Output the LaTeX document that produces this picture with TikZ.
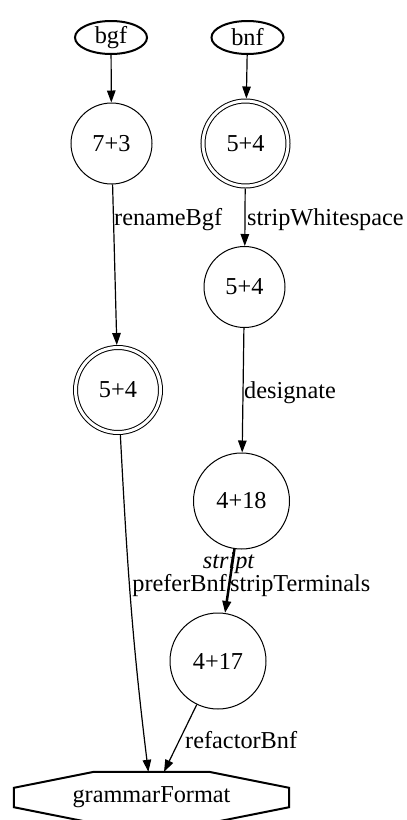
\documentclass[tikz,border=0pt]{standalone}
\usepackage{fontspec}
\setmainfont{Liberation Serif}
\usetikzlibrary{shapes.geometric, arrows.meta}

\tikzset{
  every node/.style={font=\fontsize{24.3}{29}\selectfont, inner sep=0pt},
  state/.style={circle, draw, line width=1pt, minimum size=81pt},
  widestate/.style={state, minimum size=96pt},
  final/.style={circle, draw, line width=1pt, double, double distance=3pt,
                minimum size=85pt, outer sep=2.5pt},
  source/.style={ellipse, draw, line width=2pt, minimum width=72pt, minimum height=33pt},
  target/.style={rectangle, minimum width=275pt, minimum height=51pt},
  flow/.style={-{Triangle[length=12pt,width=8.5pt]}, line width=1.2pt},
  heavyflow/.style={flow, line width=2.5pt},
  lbl/.style={anchor=base west},
}

\begin{document}
\begin{tikzpicture}[x=1pt, y=1pt]
  \useasboundingbox (0,0) rectangle (407,-820);

  % inputs
  \node[source] (bgf) at (111,-37.5) {bgf};
  \node[source] (bnf) at (247.5,-37.5) {bnf};

  % grammar states
  \node[state] (s73) at (111.5,-143.5) {7+3};
  \node[final] (s54a) at (245.5,-143.5) {5+4};
  \node[state] (s54b) at (244.5,-287) {5+4};
  \node[final] (s54c) at (118,-390) {5+4};
  \node[widestate] (s418) at (241.5,-501) {4+18};
  \node[widestate] (s417) at (218,-661) {4+17};

  % output format (octagon drawn around a plain box)
  \node[target] (gf) at (151.5,-797.5) {grammarFormat};
  \draw[line width=2pt, line join=miter]
    ([xshift=-57.5pt]gf.north) -- ([xshift=57.5pt]gf.north)
    -- ([yshift=-16pt]gf.north east) -- ([yshift=16pt]gf.south east)
    -- ([xshift=57.5pt]gf.south) -- ([xshift=-57.5pt]gf.south)
    -- ([yshift=16pt]gf.south west) -- ([yshift=-16pt]gf.north west) -- cycle;

  % transformations
  \draw[flow] (bgf) -- (s73);
  \draw[flow] (bnf) -- (s54a);
  \draw[flow] (s73) -- (s54c);
  \draw[flow] (s54a) -- (s54b);
  \draw[flow] (s54b) -- (s418);
  \draw[heavyflow] (s418) -- (s417);
  \draw[flow] (s54c) to[out=-87, in=97] (gf);
  \draw[flow] (s417) -- (gf);

  % edge labels
  \node[lbl] (l1) at (114,-225) {renameBgf};
  \node[lbl] (l2) at (247,-225) {stripWhitespace};
  \node[lbl] (l3) at (244,-398) {designate};
  \node[anchor=base, font=\fontsize{24.3}{29}\selectfont\itshape] (l4) at (228.5,-568) {stript};
  \node[anchor=base east] (l5) at (227,-591) {preferBnf};
  \node[lbl] (l6) at (230,-591) {stripTerminals};
  \node[lbl] (l7) at (185,-748) {refactorBnf};
\end{tikzpicture}
\end{document}
